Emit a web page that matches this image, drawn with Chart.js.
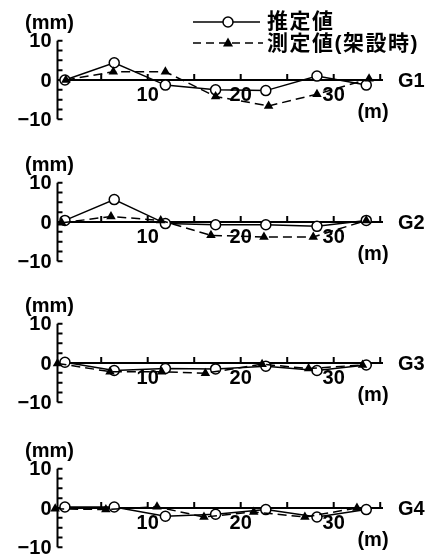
<!DOCTYPE html>
<html>
<head>
<meta charset="utf-8">
<script src="https://cdn.jsdelivr.net/npm/chart.js@4.4.1/dist/chart.umd.min.js"></script>
<style>
  html, body { margin: 0; padding: 0; background: #fff; }
  #wrap { position: relative; width: 430px; height: 555px; overflow: hidden; }
  #wrap canvas { position: absolute; left: 0; }
</style>
</head>
<body>
<div id="wrap">
  <canvas id="c0" width="430" height="142" style="top:0px"></canvas>
  <canvas id="c1" width="430" height="142" style="top:142px"></canvas>
  <canvas id="c2" width="430" height="142" style="top:283px"></canvas>
  <canvas id="c3" width="430" height="142" style="top:428px"></canvas>
</div>
<script>
// girder names and series labels
var girders = ['G1', 'G2', 'G3', 'G4'];
var seriesLabels = ['推定値', '測定値(架設時)'];

// x positions (m) of the estimated points
var estX = [1.1, 6.4, 11.9, 17.3, 22.7, 28.2, 33.5];

// estimated deflection (mm)
var estG1 = [0, 4.4, -1.3, -2.5, -2.7, 1.0, -1.3];
var estG2 = [0.4, 5.7, -0.4, -0.7, -0.7, -1.1, 0.4];
var estG3 = [0.2, -1.9, -1.4, -1.5, -0.8, -1.9, -0.5];
var estG4 = [0.25, 0.25, -2.1, -1.6, -0.4, -2.3, -0.4];

// measured (during erection) x positions (m) and values (mm)
var measXG1 = [1.2, 6.3, 11.9, 17.3, 23.0, 28.2, 33.8];
var measG1 = [0, 2.1, 2.1, -4.2, -6.6, -3.6, 0.3];
var measXG2 = [0.75, 6.05, 11.4, 16.8, 22.5, 27.8, 33.5];
var measG2 = [-0.2, 1.4, 0.4, -3.4, -3.8, -3.8, 0.4];
var measXG3 = [0.3, 5.95, 11.5, 16.2, 22.3, 27.3, 33.1];
var measG3 = [-0.1, -2.2, -2.2, -2.6, -0.3, -1.4, -0.5];
var measXG4 = [0.05, 5.5, 11.0, 16.05, 21.4, 26.9, 32.5];
var measG4 = [-0.2, -0.4, 0.3, -2.3, -1.0, -2.3, 0];

// axis ticks
var xTicks = [5, 10, 15, 20, 25, 30, 35];
var xTickLabels = [10, 20, 30];
var yTicks = [10, 7.5, 5, 2.5, 0, -2.5, -5, -7.5, -10];
var yTickLabels = [10, 0, -10];

var estAll = [estG1, estG2, estG3, estG4];
var measXAll = [measXG1, measXG2, measXG3, measXG4];
var measAll = [measG1, measG2, measG3, measG4];

var numFont = 'bold 20px "Liberation Sans", Arial, sans-serif';
var jpFont = 'bold 21px "Liberation Sans", "Noto Sans CJK JP", sans-serif';

function pts(xs, ys) {
    return xs.map(function (x, i) { return { x: x, y: ys[i] }; });
}

function drawCircle(ctx, x, y) {
    ctx.beginPath();
    ctx.arc(x, y, 5, 0, Math.PI * 2);
    ctx.fillStyle = '#fff';
    ctx.fill();
    ctx.lineWidth = 1.5;
    ctx.stroke();
}

function drawTri(ctx, x, y) {
    ctx.beginPath();
    ctx.moveTo(x, y - 5.5);
    ctx.lineTo(x + 5, y + 3.5);
    ctx.lineTo(x - 5, y + 3.5);
    ctx.closePath();
    ctx.fillStyle = '#000';
    ctx.fill();
}

var frame = {
    id: 'frame',
    beforeDatasetsDraw: function (chart, args, opts) {
        var ctx = chart.ctx, xs = chart.scales.x, ys = chart.scales.y;
        var x0 = xs.left, y0 = ys.getPixelForValue(0);
        ctx.save();
        ctx.strokeStyle = '#000';
        ctx.lineWidth = 2;
        ctx.beginPath();
        // y axis with inward ticks
        ctx.moveTo(x0, ys.getPixelForValue(10));
        ctx.lineTo(x0, ys.getPixelForValue(-10));
        yTicks.forEach(function (v) {
            var p = ys.getPixelForValue(v);
            ctx.moveTo(x0, p);
            ctx.lineTo(x0 + 5, p);
        });
        // x axis along zero with upward ticks
        ctx.moveTo(x0, y0);
        ctx.lineTo(xs.right, y0);
        xTicks.forEach(function (v) {
            var p = xs.getPixelForValue(v);
            ctx.moveTo(p, y0);
            ctx.lineTo(p, y0 - 6);
        });
        ctx.stroke();

        ctx.fillStyle = '#000';
        ctx.font = numFont;
        ctx.textAlign = 'right';
        ctx.textBaseline = 'middle';
        yTickLabels.forEach(function (v) {
            var t = v < 0 ? '\u2212' + Math.abs(v) : String(v);
            ctx.fillText(t, x0 - 6, ys.getPixelForValue(v) + 1);
        });
        ctx.textAlign = 'center';
        ctx.textBaseline = 'top';
        xTickLabels.forEach(function (v) {
            ctx.fillText(String(v), xs.getPixelForValue(v), y0 + 5);
        });
        ctx.textAlign = 'left';
        ctx.textBaseline = 'middle';
        ctx.fillText('(mm)', 25, y0 - 57);
        ctx.fillText(opts.name, 398, y0 + 1);
        ctx.textAlign = 'center';
        ctx.fillText('(m)', 373, y0 + 32);
        ctx.restore();
    },
    afterDraw: function (chart, args, opts) {
        if (!opts.legend) return;
        var ctx = chart.ctx;
        ctx.save();
        ctx.strokeStyle = '#000';
        ctx.lineWidth = 1.5;
        ctx.beginPath();
        ctx.moveTo(193, 22);
        ctx.lineTo(260, 22);
        ctx.stroke();
        drawCircle(ctx, 228, 22);
        ctx.setLineDash([8, 5]);
        ctx.beginPath();
        ctx.moveTo(193, 43);
        ctx.lineTo(263, 43);
        ctx.stroke();
        ctx.setLineDash([]);
        drawTri(ctx, 228, 43);
        ctx.fillStyle = '#000';
        ctx.font = jpFont;
        ctx.letterSpacing = '1.5px';
        ctx.textAlign = 'left';
        ctx.textBaseline = 'middle';
        ctx.fillText(seriesLabels[0], 267, 22);
        ctx.fillText(seriesLabels[1], 267, 44);
        ctx.restore();
    }
};

girders.forEach(function (g, i) {
    var ctx = document.getElementById('c' + i).getContext('2d');
    new Chart(ctx, {
        type: 'scatter',
        data: {
            datasets: [{
                label: seriesLabels[0],
                data: pts(estX, estAll[i]),
                showLine: true,
                borderColor: '#000',
                borderWidth: 1.5,
                pointStyle: 'circle',
                pointRadius: 5,
                pointBackgroundColor: '#fff',
                pointBorderColor: '#000',
                pointBorderWidth: 1.5,
                clip: false,
                order: 2
            }, {
                label: seriesLabels[1],
                data: pts(measXAll[i], measAll[i]),
                showLine: true,
                borderColor: '#000',
                borderWidth: 1.5,
                borderDash: [9, 5],
                pointStyle: 'triangle',
                pointRadius: 5.5,
                pointBackgroundColor: '#000',
                pointBorderColor: '#000',
                pointBorderWidth: 0,
                clip: false,
                order: 1
            }]
        },
        options: {
            responsive: false,
            animation: false,
            events: [],
            layout: { padding: { left: 57.5, right: 47, top: 40.7, bottom: 22.7 } },
            scales: {
                x: { type: 'linear', min: 0.3, max: 35.3, display: false },
                y: { type: 'linear', min: -10, max: 10, display: false }
            },
            plugins: {
                legend: { display: false },
                tooltip: { enabled: false },
                frame: { name: g, legend: i === 0 }
            }
        },
        plugins: [frame]
    });
});
</script>
</body>
</html>
